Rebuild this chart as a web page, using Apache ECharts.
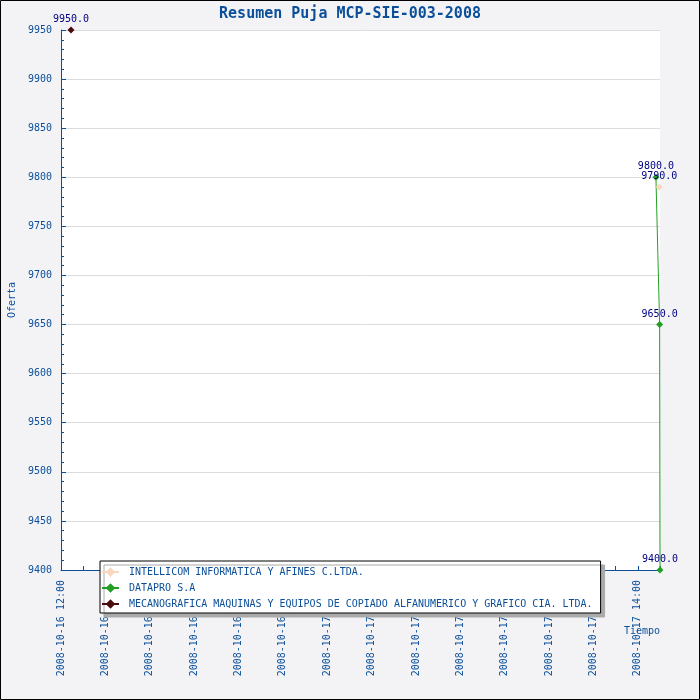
<!DOCTYPE html>
<html>
<head>
<meta charset="utf-8">
<script src="https://cdn.jsdelivr.net/npm/echarts@6/dist/echarts.min.js"></script>
<style>
  html, body { margin: 0; padding: 0; }
  #main { width: 700px; height: 700px; }
</style>
</head>
<body>
<div id="main"></div>
<script>
// series data
const seriesNames = [
  'INTELLICOM INFORMATICA Y AFINES C.LTDA.',
  'DATAPRO S.A',
  'MECANOGRAFICA MAQUINAS Y EQUIPOS DE COPIADO ALFANUMERICO Y GRAFICO CIA. LTDA.'
];
const intellicomTimes = ['2008-10-17 14:58'];
const intellicomValues = [9790];
const dataproTimes = ['2008-10-17 14:49', '2008-10-17 14:59', '2008-10-17 15:00'];
const dataproValues = [9800, 9650, 9400];
const mecanograficaTimes = ['2008-10-16 12:27'];
const mecanograficaValues = [9950];

const xStart = '2008-10-16 12:00';
const xEnd = '2008-10-17 15:00';
const yMin = 9400;
const yMax = 9950;

const blue = '#0b4f9a';
const mono = 'DejaVu Sans Mono';

function t(s) {
  return Date.UTC(+s.slice(0, 4), +s.slice(5, 7) - 1, +s.slice(8, 10), +s.slice(11, 13), +s.slice(14, 16));
}
function pad(n) { return (n < 10 ? '0' : '') + n; }
function pairs(times, values) {
  return times.map((s, i) => [t(s), values[i]]);
}

function makeSeries(name, data, color) {
  return {
    name: name,
    type: 'line',
    data: data,
    symbol: 'diamond',
    symbolSize: 7,
    lineStyle: { color: color, width: 1 },
    itemStyle: { color: color },
    label: {
      show: true,
      position: 'top',
      distance: 2,
      color: '#000080',
      fontFamily: mono,
      fontSize: 10,
      formatter: p => p.value[1].toFixed(1)
    },
    animation: false
  };
}

let myChart = echarts.init(document.getElementById('main'));
let option = {
  backgroundColor: '#f3f3f6',
  animation: false,
  title: {
    text: 'Resumen Puja MCP-SIE-003-2008',
    left: 'center',
    top: 2,
    textStyle: { color: blue, fontFamily: mono, fontSize: 15, fontWeight: 'bold' }
  },
  graphic: [{
    type: 'rect',
    shape: { x: 0.5, y: 0.5, width: 699, height: 699 },
    style: { fill: 'none', stroke: '#000', lineWidth: 1 },
    z: 100
  }],
  legend: {
    orient: 'vertical',
    left: 100,
    top: 561,
    data: seriesNames,
    backgroundColor: '#fff',
    borderColor: '#000',
    borderWidth: 1,
    padding: [6, 8, 4, 1],
    itemGap: 6,
    itemWidth: 17,
    itemHeight: 12,
    shadowColor: '#aaa',
    shadowBlur: 0,
    shadowOffsetX: 4,
    shadowOffsetY: 4,
    textStyle: { color: blue, fontFamily: mono, fontSize: 10, padding: [0, 0, 0, 5] }
  },
  grid: {
    left: 61,
    top: 30,
    right: 40,
    bottom: 130,
    outerBoundsMode: 'none',
    containLabel: false,
    show: true,
    backgroundColor: '#fff',
    borderWidth: 0
  },
  xAxis: {
    type: 'value',
    min: t(xStart),
    max: t(xEnd),
    interval: 3600 * 1000,
    name: 'Tiempo',
    nameLocation: 'end',
    nameGap: 0,
    nameMoveOverlap: false,
    nameTextStyle: {
      color: blue, fontFamily: mono, fontSize: 10,
      align: 'right', verticalAlign: 'top', padding: [56, 0, 0, 0]
    },
    axisLine: { onZero: false, lineStyle: { color: blue, width: 1 } },
    axisTick: { inside: true, length: 4, lineStyle: { color: blue } },
    splitLine: { show: false },
    axisLabel: {
      rotate: 90,
      margin: 10,
      color: blue,
      fontFamily: mono,
      fontSize: 10,
      showMaxLabel: true,
      formatter: v => {
        const d = new Date(v);
        if (d.getUTCHours() % 2) return '';
        return d.getUTCFullYear() + '-' + pad(d.getUTCMonth() + 1) + '-' + pad(d.getUTCDate()) +
          ' ' + pad(d.getUTCHours()) + ':' + pad(d.getUTCMinutes());
      }
    }
  },
  yAxis: {
    type: 'value',
    min: yMin,
    max: yMax,
    interval: 50,
    name: 'Oferta',
    nameLocation: 'middle',
    nameRotate: 90,
    nameGap: 42,
    nameTextStyle: { color: blue, fontFamily: mono, fontSize: 10 },
    axisLine: { show: true, lineStyle: { color: blue, width: 1 } },
    axisTick: { show: true, inside: true, length: 5, lineStyle: { color: blue } },
    minorTick: { show: true, splitNumber: 5, length: 3, lineStyle: { color: blue } },
    splitLine: { show: true, lineStyle: { color: '#dcdcdc', width: 1 } },
    axisLabel: { color: blue, fontFamily: mono, fontSize: 10, margin: 9, formatter: v => String(v) }
  },
  series: [
    makeSeries(seriesNames[0], pairs(intellicomTimes, intellicomValues), '#fad8c0'),
    makeSeries(seriesNames[1], pairs(dataproTimes, dataproValues), '#22a022'),
    makeSeries(seriesNames[2], pairs(mecanograficaTimes, mecanograficaValues), '#4a0c0c')
  ]
};
myChart.setOption(option);
</script>
</body>
</html>
